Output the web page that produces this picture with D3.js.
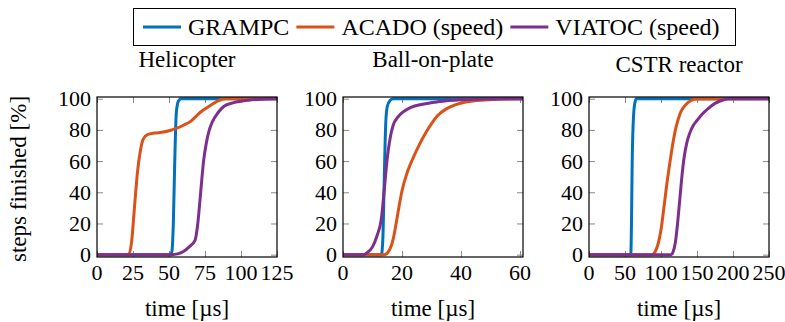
<!DOCTYPE html>
<html lang="en">
<head>
    <meta charset="UTF-8">
    <title>Steps finished</title>
    <script src="https://cdn.jsdelivr.net/npm/d3@7"></script>
</head>
<body style="margin:0">
<script>
    // series names and colours
    var solvers = ['GRAMPC', 'ACADO (speed)', 'VIATOC (speed)'];
    var colors = {'GRAMPC': '#0072BD', 'ACADO (speed)': '#D95319', 'VIATOC (speed)': '#7E2F8E'};

    var yTicks = [0, 20, 40, 60, 80, 100];

    // Helicopter, [time us, percent]
    var heliGrampc = [[0,0],[51,0],[52,2],[53,20],[54,60],[55,90],[56,97],[57,99],[58,100],[125,100]];
    var heliAcado = [[0,0],[22,0],[24,8],[26,30],[28,52],[30,66],[32,74],[35,77],[40,78],[45,78.5],[50,79.5],[55,81],[60,83],[65,85.5],[68,88],[72,91.5],[76,94],[80,96.5],[85,99],[90,100],[125,100]];
    var heliViatoc = [[0,0],[52,0],[56,0.5],[60,2],[64,5],[68,9],[70,20],[72,40],[74,60],[76,72],[78,80],[80,85],[84,91],[88,95],[95,97.5],[105,99],[115,99.7],[125,100]];

    // Ball-on-plate
    var bopGrampc = [[0,0],[13,0],[13.5,10],[14,50],[14.5,85],[15,95],[16,99],[17,100],[61,100]];
    var bopAcado = [[0,0],[14,0],[15,1],[16,4],[17,10],[18,20],[19,31],[20,41],[22,54],[24,63],[26,71],[28,78],[30,84],[32,89],[35,93.5],[38,96],[42,98],[48,99.2],[55,99.8],[61,100]];
    var bopViatoc = [[0,0],[7,0],[8,1],[10,5],[11.5,12],[13,23],[14,42],[15,62],[16,75],[17,83],[18.5,88],[20,91],[23,94.5],[27,96.5],[32,98],[40,99.3],[50,99.8],[61,100]];

    // CSTR reactor
    var cstrGrampc = [[0,0],[58,0],[59,20],[60,60],[62,90],[64,98],[66,100],[250,100]];
    var cstrAcado = [[0,0],[88,0],[92,2],[96,7],[100,16],[104,30],[108,45],[112,58],[116,70],[120,80],[124,87],[128,92],[134,96],[142,99],[150,99.8],[250,100]];
    var cstrViatoc = [[0,0],[114,0],[117,2],[120,8],[123,20],[126,35],[129,50],[132,62],[136,72],[140,78],[145,83],[150,86],[157,90],[165,93.5],[175,97],[185,99],[195,100],[250,100]];

    var panels = [
        {title: 'Helicopter', xMax: 125, xTicks: [0, 25, 50, 75, 100, 125], left: 97, titleY: 67,
         series: [heliGrampc, heliAcado, heliViatoc]},
        {title: 'Ball-on-plate', xMax: 61, xTicks: [0, 20, 40, 60], left: 343, titleY: 67,
         series: [bopGrampc, bopAcado, bopViatoc]},
        {title: 'CSTR reactor', xMax: 250, xTicks: [0, 50, 100, 150, 200, 250], left: 589, titleY: 72,
         series: [cstrGrampc, cstrAcado, cstrViatoc]}
    ];

    var width = 180, height = 160, top0 = 97;
    var tickLen = 6;
    var serif = 'Liberation Serif';

    var svg = d3.select('body').append('svg')
        .attr('width', 785)
        .attr('height', 322)
        .attr('font-family', serif);

    // legend, entries laid out from their text widths
    var legend = svg.append('g');
    legend.append('rect')
        .attr('x', 133.5).attr('y', 8.5)
        .attr('width', 602).attr('height', 37)
        .attr('fill', 'none').attr('stroke', '#000').attr('stroke-width', 1);
    var lx = 143;
    solvers.forEach(function(s) {
        legend.append('line')
            .attr('x1', lx).attr('x2', lx + 38)
            .attr('y1', 27).attr('y2', 27)
            .attr('stroke', colors[s]).attr('stroke-width', 3);
        var t = legend.append('text')
            .attr('x', lx + 45).attr('y', 35)
            .attr('font-family', serif)
            .attr('font-size', 24)
            .text(s);
        lx += 45 + t.node().getComputedTextLength() + 7;
    });

    // y axis label
    svg.append('text')
        .attr('transform', 'translate(26,' + (top0 + height / 2 + 2) + ') rotate(-90)')
        .attr('text-anchor', 'middle')
        .attr('font-family', serif)
        .attr('font-size', 23)
        .text('steps finished [%]');

    var yScale = d3.scaleLinear().domain([-1.5, 101.1]).range([top0 + height, top0]);

    panels.forEach(function(p) {
        var xScale = d3.scaleLinear().domain([0, p.xMax]).range([p.left, p.left + width]);
        var g = svg.append('g');

        // title
        g.append('text')
            .attr('x', p.left + width / 2).attr('y', p.titleY)
            .attr('text-anchor', 'middle')
            .attr('font-family', serif)
            .attr('font-size', 23)
            .text(p.title);

        // inner tick marks on all four sides, labels drawn separately
        var axes = [
            [d3.axisBottom(xScale).tickValues(p.xTicks), 'translate(0,' + (top0 + height) + ')'],
            [d3.axisTop(xScale).tickValues(p.xTicks), 'translate(0,' + top0 + ')'],
            [d3.axisLeft(yScale).tickValues(yTicks), 'translate(' + p.left + ',0)'],
            [d3.axisRight(yScale).tickValues(yTicks), 'translate(' + (p.left + width) + ',0)']
        ];
        axes.forEach(function(a) {
            a[0].tickSizeInner(-tickLen).tickSizeOuter(0).tickFormat('');
            var ax = g.append('g').attr('transform', a[1]).call(a[0]);
            ax.attr('font-family', null).attr('font-size', null);
            ax.select('.domain').remove();
            ax.selectAll('.tick text').remove();
            ax.selectAll('.tick line').attr('stroke', '#888').attr('stroke-width', 1);
        });

        // tick labels
        p.xTicks.forEach(function(t) {
            g.append('text')
                .attr('x', xScale(t)).attr('y', 280)
                .attr('text-anchor', 'middle')
                .attr('font-family', serif)
                .attr('font-size', 22)
                .text(t);
        });
        yTicks.forEach(function(t) {
            g.append('text')
                .attr('x', p.left - 6).attr('y', yScale(t) + 7.5)
                .attr('text-anchor', 'end')
                .attr('font-family', serif)
                .attr('font-size', 22)
                .text(t);
        });

        // curves
        var line = d3.line()
            .x(function(d) { return xScale(d[0]); })
            .y(function(d) { return yScale(d[1]); })
            .curve(d3.curveMonotoneX);

        p.series.forEach(function(data, i) {
            g.append('path')
                .datum(data)
                .attr('d', line)
                .attr('fill', 'none')
                .attr('stroke', colors[solvers[i]])
                .attr('stroke-width', 3)
                .attr('stroke-linejoin', 'round');
        });

        // frame
        g.append('rect')
            .attr('x', p.left).attr('y', top0)
            .attr('width', width).attr('height', height)
            .attr('fill', 'none').attr('stroke', '#000').attr('stroke-width', 1.2);

        // x label
        g.append('text')
            .attr('x', p.left + width / 2).attr('y', 316)
            .attr('text-anchor', 'middle')
            .attr('font-family', serif)
            .attr('font-size', 23)
            .text('time [µs]');
    });
</script>
</body>
</html>
